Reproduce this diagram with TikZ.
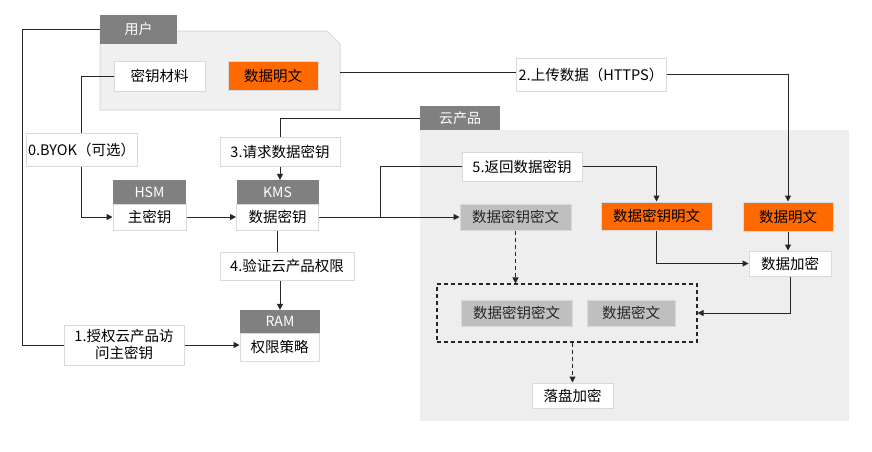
\documentclass[tikz,border=0pt]{standalone}
\usepackage{fontspec}
\setmainfont{Noto Sans CJK SC}
\usetikzlibrary{arrows.meta,calc}
\definecolor{tabgray}{HTML}{808080}
\definecolor{panelgray}{HTML}{F0F0F0}
\definecolor{cloudgray}{HTML}{EEEEEE}
\definecolor{edgegray}{HTML}{D9D9D9}
\definecolor{orng}{HTML}{FF6A00}
\definecolor{boxgray}{HTML}{BFBFBF}
\definecolor{linec}{HTML}{262626}
\tikzset{
  base/.style={inner sep=0pt, font=\fontsize{14.5}{17}\selectfont, text=black, align=center},
  wbox/.style={base, fill=white, draw=edgegray, line width=1pt},
  obox/.style={base, fill=orng, draw=edgegray, line width=1pt},
  gbox/.style={base, fill=boxgray, draw=edgegray, line width=1pt, text=black!85},
  tab/.style={inner sep=0pt, fill=tabgray, text=white, font=\fontsize{14}{16}\selectfont},
  conn/.style={draw=linec, line width=1pt},
  arr/.style={conn, -{Triangle[length=6pt,width=6pt]}},
  darr/.style={arr, dash pattern=on 4pt off 3pt},
}
\begin{document}
\begin{tikzpicture}[x=1pt,y=-1pt]
\useasboundingbox (0,0) rectangle (872,451);
\fill[white] (0,0) rectangle (872,451);
% panels
\filldraw[fill=panelgray, draw=edgegray, line width=1pt] (100,31) -- (327,31) -- (340,44) -- (340,110) -- (100,110) -- cycle;
\fill[cloudgray] (420,130) rectangle (849,421);
\node[tab, minimum width=77pt, minimum height=29pt] (tabU) at (138.5,29.5) {用户};
\node[tab, minimum width=80pt, minimum height=24pt] (tabC) at (460,118) {云产品};
\coordinate (upR) at (340,72);
% user boxes
\node[wbox, minimum width=91pt, minimum height=30pt] (mat) at (159.5,76) {密钥材料};
\node[obox, minimum width=90pt, minimum height=29pt] (udata) at (273,75.5) {数据明文};
\node[wbox, minimum width=150pt, minimum height=33pt] (up) at (591,74.5) {2.上传数据（HTTPS）};
% left column
\node[wbox, minimum width=111pt, minimum height=33pt] (byok) at (81.5,149.5) {0.BYOK（可选）};
\node[tab, minimum width=73pt, minimum height=24pt] (hsmT) at (149.5,192) {HSM};
\node[wbox, minimum width=73pt, minimum height=26pt] (hsm) at (149.5,217) {主密钥};
\node[wbox, minimum width=120pt, minimum height=29pt] (req) at (280,151.5) {3.请求数据密钥};
\node[tab, minimum width=82pt, minimum height=24pt] (kmsT) at (277.5,192) {KMS};
\node[wbox, minimum width=82pt, minimum height=26pt] (kms) at (277.5,217) {数据密钥};
\node[wbox, minimum width=134pt, minimum height=28pt] (ver) at (287,266) {4.验证云产品权限};
\node[tab, minimum width=80pt, minimum height=23pt] (ramT) at (280,321.5) {RAM};
\node[wbox, minimum width=79pt, minimum height=28pt] (ram) at (279.5,347) {权限策略};
\node[wbox, minimum width=120pt, minimum height=40pt, font=\fontsize{14.5}{17}\selectfont] (auth) at (124,345) {1.授权云产品访\\问主密钥};
% cloud
\node[wbox, minimum width=120pt, minimum height=29pt] (ret) at (522,166.5) {5.返回数据密钥};
\node[gbox, minimum width=111pt, minimum height=26pt] (dkc) at (515.5,217) {数据密钥密文};
\node[obox, minimum width=111pt, minimum height=28pt] (dkp) at (656.5,216) {数据密钥明文};
\node[obox, minimum width=90pt, minimum height=29pt] (cdata) at (788,216.5) {数据明文};
\node[wbox, minimum width=82pt, minimum height=25pt] (enc) at (790,263.5) {数据加密};
\node[draw=linec, line width=1.1pt, dash pattern=on 4pt off 3pt, minimum width=260pt, minimum height=58pt, inner sep=0pt] (dbox) at (567,313) {};
\node[gbox, minimum width=111pt, minimum height=26pt] (dkc2) at (516.5,313) {数据密钥密文};
\node[gbox, minimum width=88pt, minimum height=26pt] (dc) at (631,313) {数据密文};
\node[wbox, minimum width=81pt, minimum height=25pt] (disk) at (572.5,395.5) {落盘加密};
\coordinate (br) at (380,217);
% connectors
\draw[conn] (upR) -- (upR -| up.west);
\draw[arr] (up.east) -| (cdata.north);
\draw[conn] (tabC.west) -| (req.north);
\draw[arr] (req.south) -- (req.south |- kmsT.north);
\draw[conn] (mat.west) -| (byok.north);
\draw[arr] (byok.south) |- (hsm.west);
\draw[arr] (hsm.east) -- (kms.west);
\draw[arr] (kms.east) -- (dkc.west);
\draw[conn] (br) |- (ret.west);
\draw[arr] (ret.east) -| (dkp.north);
\draw[arr] (cdata.south) -- (cdata.south |- enc.north);
\draw[arr] (dkp.south) |- (enc.west);
\draw[arr] (enc.south) |- (dbox.east);
\draw[darr] (dkc.south) -- (dkc.south |- dbox.north);
\draw[darr] (disk.north |- dbox.south) -- (disk.north);
\draw[conn] (tabU.west) -- ++(-77,0) |- (auth.west);
\draw[arr] (auth.east) -- (auth.east -| ram.west);
\draw[conn] (kms.south) -- (kms.south |- ver.north);
\draw[arr] (ver.south -| ramT.north) -- (ramT.north);
\end{tikzpicture}
\end{document}
